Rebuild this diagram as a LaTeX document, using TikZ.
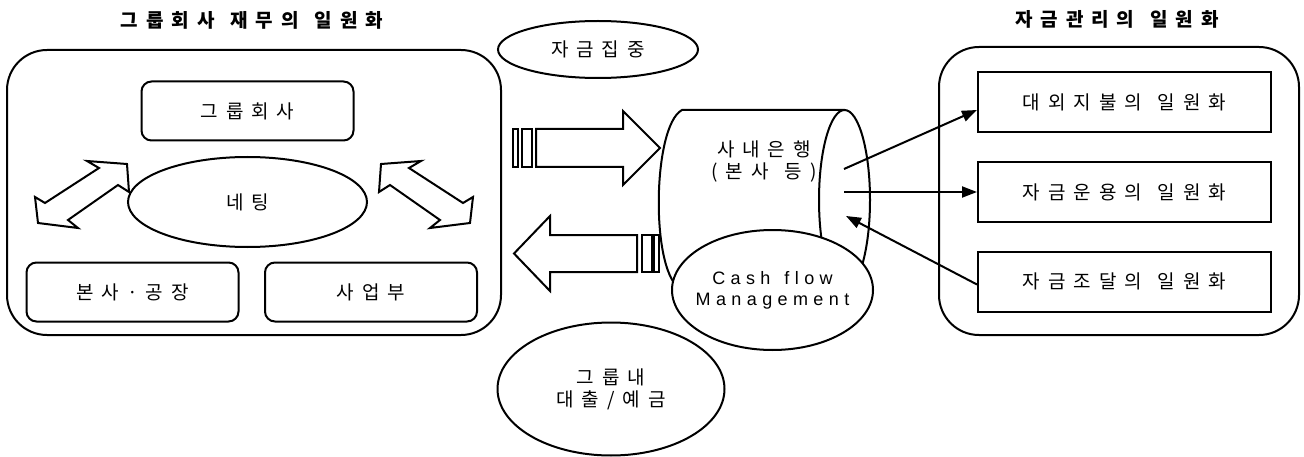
\documentclass[tikz,border=0pt]{standalone}
\usepackage{fontspec}
\setmainfont{Liberation Sans}
\newfontfamily\kor[LetterSpace=42]{Noto Sans CJK KR}
\newfontfamily\latn[LetterSpace=30]{Liberation Sans}
\newcommand\wgap{\hspace{16pt}}
\usetikzlibrary{shapes.geometric,arrows.meta}

\begin{document}
\begin{tikzpicture}[x=1pt,y=1pt,
	every node/.style={font=\kor\fontsize{19}{22}\selectfont},
	frame/.style={draw,line width=2pt,rounded corners=40pt},
	roundbox/.style={draw,line width=2pt,rounded corners=10pt,minimum width=212pt,minimum height=59pt},
	sqbox/.style={draw,line width=2pt,minimum width=293pt,minimum height=60pt},
	oval/.style={draw,line width=2pt,ellipse,fill=white,inner sep=0pt},
	fatarrow/.style={draw,line width=2pt,fill=white,line join=miter},
	link/.style={line width=2pt,-{Triangle[length=15pt,width=11pt]}},
	title/.style={font=\kor\bfseries\fontsize{19}{22}\selectfont}]
			\useasboundingbox (0,0) rectangle (1304,456);
			% two frames and their titles
			\node[frame,minimum width=494pt,minimum height=285pt] (finance) at (254,263.5) {};
			\node[frame,minimum width=360pt,minimum height=288pt] (fund) at (1119,265) {};
			\node[title] at (252,436) {그룹회사\wgap{}재무의\wgap{}일원화};
			\node[title] at (1117,437) {자금관리의\wgap{}일원화};
			% group companies
			\node[roundbox] (group) at (247.5,345) {그룹회사};
			\node[roundbox] (hq) at (132.5,164) {본사·공장};
			\node[roundbox] (biz) at (371,164) {사업부};
			\draw[fatarrow] (127,292)--(87,295)--(99,288)--(45,253)--(35,259)--(38,233)--(78,228)--(68,236)--(118,271)--(129,264)--cycle;
			\begin{scope}[xshift=508pt,xscale=-1]
				\draw[fatarrow] (127,292)--(87,295)--(99,288)--(45,253)--(35,259)--(38,233)--(78,228)--(68,236)--(118,271)--(129,264)--cycle;
			\end{scope}
			\node[oval,minimum width=239pt,minimum height=90pt] (net) at (247.5,254) {네팅};
			% in-house bank
			\draw[line width=2pt,fill=white] (844.5,346)--(682,346) .. controls (652,330) and (650,180) .. (682,166)--(844.5,166);
			\draw[line width=2pt] (844.5,256) ellipse [x radius=25.5, y radius=90];
			\node[align=center] (bank) at (764,294.5) {사내은행\\(본사\wgap{}등)};
			\node[oval,minimum width=201pt,minimum height=120pt] (cash) at (772.5,166) {};
			\node[align=center,font=\latn\fontsize{18}{21}\selectfont] at (cash) {Cash\hspace{14pt}flow\\Management};
			\node[oval,minimum width=200pt,minimum height=57pt] (pool) at (598,406.5) {자금집중};
			\node[oval,minimum width=227pt,minimum height=133pt,align=center] (loan) at (611,67) {그룹내\\대출/예금};
			% flows between the group and the bank
			\draw[fatarrow] (536,289)--(623,289)--(623,271)--(660,308)--(623,345)--(623,327)--(536,327)--cycle;
			\draw[fatarrow] (513,289) rectangle (518,327);
			\draw[fatarrow] (522,289) rectangle (532,327);
			\draw[fatarrow] (637,184)--(550,184)--(550,165)--(514,202.5)--(550,240)--(550,221)--(637,221)--cycle;
			\draw[fatarrow] (642,184) rectangle (652,221);
			\draw[fatarrow] (654,184) rectangle (659,221);
			% fund management
			\node[sqbox] (pay) at (1124.5,354) {대외지불의\wgap{}일원화};
			\node[sqbox] (invest) at (1124.5,264) {자금운용의\wgap{}일원화};
			\node[sqbox] (raise) at (1124.5,174.5) {자금조달의\wgap{}일원화};
			\coordinate (out1) at (844,287);
			\coordinate (out2) at (844,264);
			\coordinate (in3) at (846,240);
			\draw[link] (out1)--([yshift=-8pt]pay.west);
			\draw[link] (out2)--(invest.west);
			\draw[link] ([yshift=-3pt]raise.west)--(in3);
		\end{tikzpicture}
\end{document}
